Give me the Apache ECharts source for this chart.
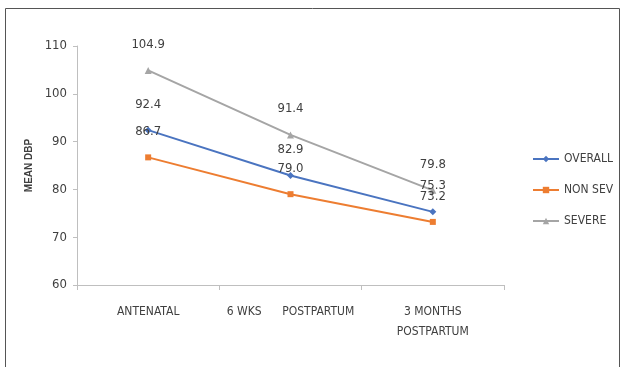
<!DOCTYPE html>
<html>
<head>
<meta charset="utf-8">
<script src="https://cdn.jsdelivr.net/npm/echarts@6/dist/echarts.min.js"></script>
<style>
  html, body { margin: 0; padding: 0; background: #fff; }
  #chart { width: 621px; height: 367px; }
</style>
</head>
<body>
<div id="chart"></div>
<script>
// Mean diastolic blood pressure over follow-up
const categories = ['ANTENATAL', '6 WKS      POSTPARTUM', '3 MONTHS\nPOSTPARTUM'];
const overall = [92.4, 82.9, 75.3];
const nonSevere = [86.7, 79.0, 73.2];
const severe = [104.9, 91.4, 79.8];
const yTicks = { min: 60, max: 110, interval: 10 };

const FONT = '"Liberation Sans Narrow", "DejaVu Sans Condensed", "Liberation Sans", sans-serif';

function lineSeries(name, data, color, symbol) {
  return {
    name: name,
    type: 'line',
    data: data,
    symbol: symbol,
    symbolSize: symbol === 'rect' ? 6 : 7,
    lineStyle: { color: color, width: 2 },
    itemStyle: { color: color },
    label: {
      show: true,
      position: 'top',
      distance: 16,
      color: '#404040',
      fontFamily: FONT,
      fontSize: 13,
      formatter: p => p.value.toFixed(1)
    },
    z: 3
  };
}

const chart = echarts.init(document.getElementById('chart'));
chart.setOption({
  animation: false,
  backgroundColor: '#fff',
  grid: { left: 77, right: 117, top: 46, bottom: 82 },
  graphic: [{
    type: 'rect',
    shape: { x: 5.5, y: 8.5, width: 614, height: 400 },
    style: { fill: 'none', stroke: '#555', lineWidth: 1 },
    silent: true
  }],
  legend: {
    orient: 'vertical',
    left: 527,
    top: 148,
    itemGap: 19,
    itemWidth: 26,
    itemHeight: 8,
    textStyle: { color: '#404040', fontFamily: FONT, fontSize: 12 },
    data: ['OVERALL', 'NON SEV', 'SEVERE']
  },
  xAxis: {
    type: 'category',
    data: categories,
    boundaryGap: true,
    axisLine: { lineStyle: { color: '#bfbfbf', width: 1 } },
    axisTick: { show: true, length: 5, lineStyle: { color: '#bfbfbf' } },
    axisLabel: {
      color: '#404040',
      fontFamily: FONT,
      fontSize: 12,
      margin: 17,
      lineHeight: 20,
      interval: 0
    }
  },
  yAxis: {
    type: 'value',
    min: yTicks.min,
    max: yTicks.max,
    interval: yTicks.interval,
    name: 'MEAN DBP',
    nameLocation: 'middle',
    nameRotate: 90,
    nameGap: 42,
    nameTextStyle: { color: '#404040', fontFamily: '"Liberation Sans", sans-serif', fontSize: 10, fontWeight: 'bold' },
    axisLine: { show: true, lineStyle: { color: '#bfbfbf', width: 1 } },
    axisTick: { show: true, length: 4, lineStyle: { color: '#bfbfbf' } },
    splitLine: { show: false },
    axisLabel: { color: '#404040', fontFamily: FONT, fontSize: 13, margin: 10 }
  },
  series: [
    lineSeries('OVERALL', overall, '#4a74c0', 'diamond'),
    lineSeries('NON SEV', nonSevere, '#ed7d31', 'rect'),
    lineSeries('SEVERE', severe, '#a5a5a5', 'triangle')
  ]
});
</script>
</body>
</html>
